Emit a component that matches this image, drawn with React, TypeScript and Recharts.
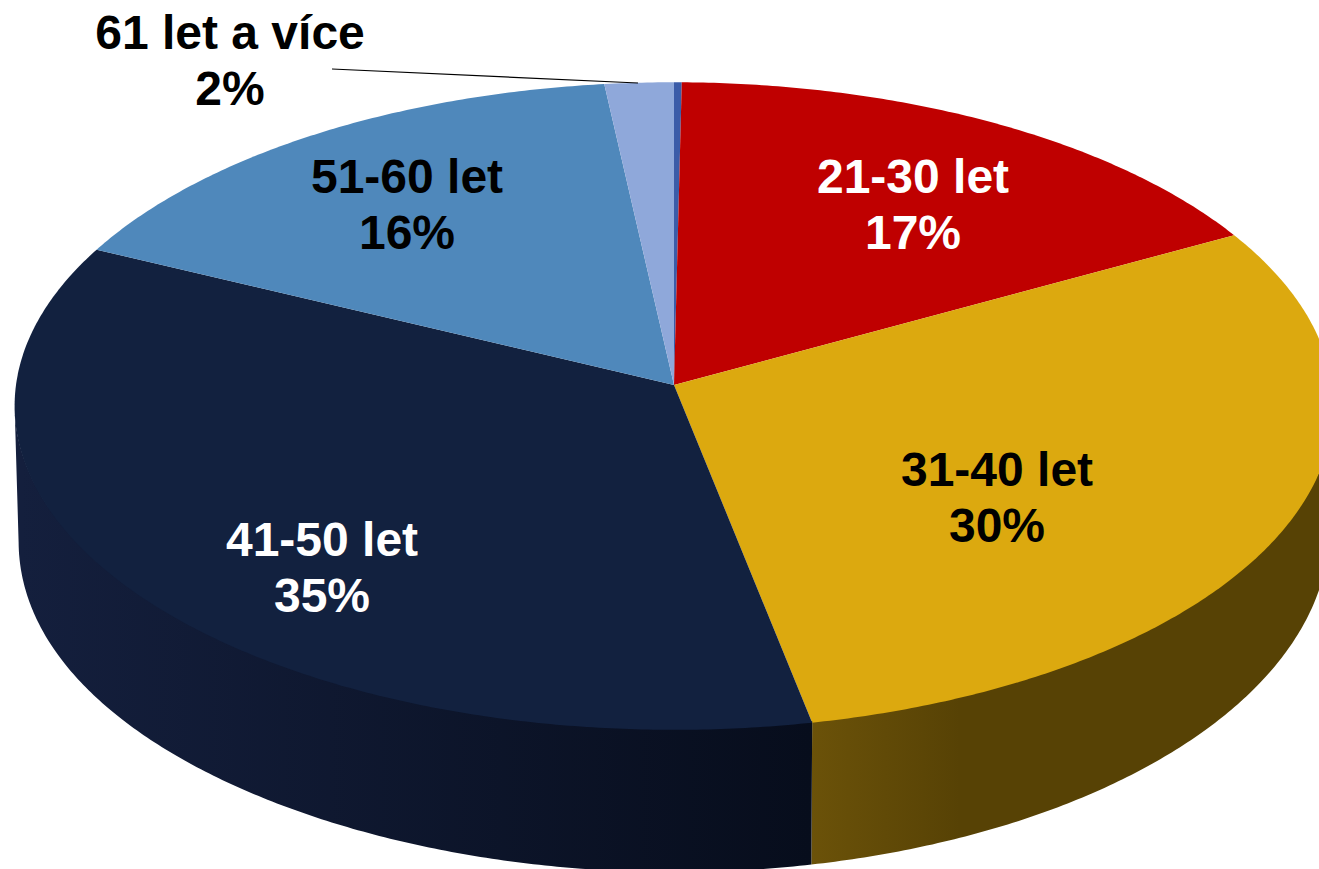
import React from 'react';
import { PieChart, Pie } from 'recharts';

// values (slice shares in %)
const ageGroups = ['do 20 let', '21-30 let', '31-40 let', '41-50 let', '51-60 let', '61 let a více'];
const shares = [0.2, 16.85, 29.8, 35.25, 16.1, 1.8];
const shareLabels = ['', '17%', '30%', '35%', '16%', '2%'];

const topColors = ['#3b5ca8', '#bf0000', '#dca90f', '#12213f', '#4f88bb', '#8fa8da'];
const wallFrom = ['#26396a', '#700000', '#6b5209', '#141f3d', '#2f5170', '#566582'];
const wallTo = ['#26396a', '#700000', '#574205', '#070d1c', '#2f5170', '#566582'];
const textColors = ['#000', '#fff', '#000', '#fff', '#000', '#000'];

// label anchors: x centre, first baseline
const labelAnchors = [
  [0, 0],
  [913, 193],
  [997, 486],
  [322, 556],
  [407, 193],
  [230, 49],
];

const WIDTH = 1319;
const HEIGHT = 869;
const CX = 674;
const CY = 385;
const RADIUS = 658;

// fake 3D tilt: the flat pie circle is projected with some perspective
const TILT = 0.49;
const PERSPECTIVE = 0.065;
const DEPTH = 122;
// the lower rim hangs a little further down on the left
const LEFT_SAG = 12;

const project = (theta: number, cx: number, cy: number, a: number, b: number, sag = 0) => {
  const t = (theta * Math.PI) / 180;
  const X = Math.sin(t);
  const Y = Math.cos(t);
  const d = 1 + PERSPECTIVE * Y;
  const extra = X < 0 ? sag * X * X * X * X : 0;
  return [cx + (a * X) / d, cy - (b * Y) / d + extra];
};

const arcPoints = (from: number, to: number, cx: number, cy: number, a: number, b: number, sag = 0) => {
  const pts: number[][] = [];
  const steps = Math.max(2, Math.ceil(Math.abs(to - from) * 2));
  for (let i = 0; i <= steps; i++) {
    pts.push(project(from + ((to - from) * i) / steps, cx, cy, a, b, sag));
  }
  return pts;
};

const toPath = (pts: number[][]) =>
  pts.map((p, i) => `${i === 0 ? 'M' : 'L'}${p[0].toFixed(2)},${p[1].toFixed(2)}`).join(' ') + ' Z';

const TiltedSlice = (props: any) => {
  const { cx, cy, outerRadius, startAngle, endAngle, index } = props;
  const from = 90 - startAngle;
  const to = 90 - endAngle;
  const b = outerRadius * TILT;

  const top = [[cx, cy], ...arcPoints(from, to, cx, cy, outerRadius, b)];

  // side wall, between the two points where the rim turns back
  // (upper edge tucked under the top face so no light seam shows)
  const wallStart = Math.max(from, 94);
  const wallEnd = Math.min(to, 266);
  let wall: number[][] | null = null;
  if (wallEnd > wallStart) {
    wall = [
      ...arcPoints(wallStart, wallEnd, cx, cy - 1.5, outerRadius, b),
      ...arcPoints(wallEnd, wallStart, cx, cy + DEPTH, outerRadius - 4, b + 19, LEFT_SAG),
    ];
  }
  const gradId = `wall-${index}`;
  return (
    <g>
      {wall && (
        <>
          <defs>
            <linearGradient id={gradId} gradientUnits="userSpaceOnUse" x1={index === 3 ? 20 : 811} x2={index === 3 ? 811 : 960} y1={0} y2={0}>
              <stop offset="0%" stopColor={wallFrom[index]} />
              <stop offset="100%" stopColor={wallTo[index]} />
            </linearGradient>
          </defs>
          <path d={toPath(wall)} fill={`url(#${gradId})`} />
        </>
      )}
      <path d={toPath(top)} fill={topColors[index]} />
    </g>
  );
};

const SliceLabel = (props: any) => {
  const { index } = props;
  if (!shareLabels[index]) return null;
  const [x, y] = labelAnchors[index];
  return (
    <g>
      {index === 5 && <line x1={332} y1={69} x2={638} y2={83} stroke="#000" strokeWidth={1.2} />}
      <text
        x={x}
        y={y}
        textAnchor="middle"
        fill={textColors[index]}
        fontFamily="Liberation Sans, Arial, sans-serif"
        fontWeight="bold"
        fontSize={48}
      >
        <tspan x={x}>{ageGroups[index]}</tspan>
        <tspan x={x} dy={56}>{shareLabels[index]}</tspan>
      </text>
    </g>
  );
};

const chartData = ageGroups.map((name, i) => ({ name, value: shares[i] }));

export default function App() {
  return (
    <div style={{ position: 'absolute', left: 0, top: 0, width: WIDTH, height: HEIGHT, overflow: 'hidden', background: '#fff' }}>
      <PieChart width={WIDTH} height={HEIGHT} margin={{ top: 0, right: 0, bottom: 0, left: 0 }}>
        <Pie
          data={chartData}
          dataKey="value"
          nameKey="name"
          cx={CX}
          cy={CY}
          outerRadius={RADIUS}
          startAngle={90}
          endAngle={-270}
          stroke="none"
          shape={TiltedSlice}
          label={SliceLabel}
          labelLine={false}
          isAnimationActive={false}
        />
      </PieChart>
    </div>
  );
}
